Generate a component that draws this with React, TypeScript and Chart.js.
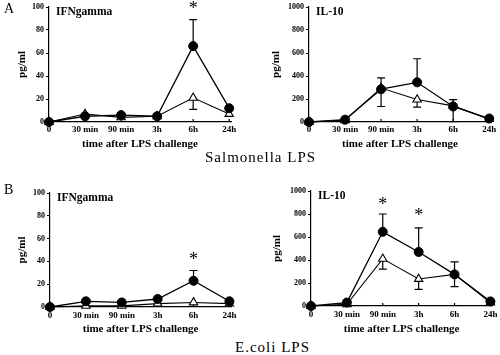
import React, { useEffect, useRef } from 'react';
import { Chart, registerables } from 'chart.js';

Chart.register(...registerables);

// ---------- data ----------
const timeLabels = ['0', '30 min', '90 min', '3h', '6h', '24h'];
const ifnTicks = [0, 20, 40, 60, 80, 100];
const il10Ticks = [0, 200, 400, 600, 800, 1000];

// Salmonella LPS – IFNgamma
const salIfnCircle = [0, 5, 6, 5, 66, 12];
const salIfnCircleUp = [null, null, null, null, 89, null];
const salIfnTriangle = [0, 7, 4, 5, 21, 7];
const salIfnTriangleDown = [null, null, null, null, 11, null];
const salIfnStars = [null, null, null, null, 101, null];

// Salmonella LPS – IL-10
const salIl10Circle = [0, 20, 285, 345, 135, 30];
const salIl10CircleUp = [null, null, 383, 550, 194, null];
const salIl10Triangle = [0, 15, 295, 195, 140, 25];
const salIl10TriangleDown = [null, null, 135, 130, 3, null];
const salIl10Stars = [null, null, null, null, null, null];

// E.coli LPS – IFNgamma
const ecoIfnCircle = [0, 5, 4, 7, 23, 5];
const ecoIfnCircleUp = [null, null, null, null, 32, null];
const ecoIfnTriangle = [0, 1, 1, 3, 4, 3];
const ecoIfnTriangleDown = [null, null, null, null, null, null];
const ecoIfnStars = [null, null, null, null, 44, null];

// E.coli LPS – IL-10
const ecoIl10Circle = [0, 30, 645, 470, 275, 40];
const ecoIl10CircleUp = [null, null, 800, 680, 383, null];
const ecoIl10Triangle = [0, 15, 410, 235, 275, 30];
const ecoIl10TriangleDown = [null, null, 320, 145, 168, null];
const ecoIl10Stars = [null, null, 905, 810, null, null];

const SERIF = '"Liberation Serif", "Times New Roman", serif';

type Panel = {
  name: string;
  yTicks: number[];
  circle: number[];
  circleUp: (number | null)[];
  triangle: number[];
  triangleDown: (number | null)[];
  stars: (number | null)[];
  left: number;
  top: number;
  height: number;
  yWidth: number;
  padTop: number;
  xHeight: number;
  xTickPad: number;
  yTitlePad: number;
};

const panels: Panel[] = [
  {
    name: 'IFNgamma', yTicks: ifnTicks,
    circle: salIfnCircle, circleUp: salIfnCircleUp,
    triangle: salIfnTriangle, triangleDown: salIfnTriangleDown, stars: salIfnStars,
    left: 0, top: 0, height: 151, yWidth: 49, padTop: 7, xHeight: 29, xTickPad: 2, yTitlePad: 16,
  },
  {
    name: 'IL-10', yTicks: il10Ticks,
    circle: salIl10Circle, circleUp: salIl10CircleUp,
    triangle: salIl10Triangle, triangleDown: salIl10TriangleDown, stars: salIl10Stars,
    left: 250, top: 0, height: 151, yWidth: 59, padTop: 7, xHeight: 29, xTickPad: 2, yTitlePad: 20,
  },
  {
    name: 'IFNgamma', yTicks: ifnTicks,
    circle: ecoIfnCircle, circleUp: ecoIfnCircleUp,
    triangle: ecoIfnTriangle, triangleDown: ecoIfnTriangleDown, stars: ecoIfnStars,
    left: 0, top: 180, height: 156, yWidth: 50, padTop: 13, xHeight: 29, xTickPad: 3.5, yTitlePad: 16,
  },
  {
    name: 'IL-10', yTicks: il10Ticks,
    circle: ecoIl10Circle, circleUp: ecoIl10CircleUp,
    triangle: ecoIl10Triangle, triangleDown: ecoIl10TriangleDown, stars: ecoIl10Stars,
    left: 250, top: 180, height: 156, yWidth: 61, padTop: 11, xHeight: 30, xTickPad: 3.5, yTitlePad: 21,
  },
];

const X_MAX = 5.05;
const X_UNIT = 36.1;
const PAD_RIGHT = 8;

const decorPlugin = {
  id: 'decor',
  beforeDatasetsDraw(chart: any) {
    const { ctx } = chart;
    const xs = chart.scales.x;
    const ys = chart.scales.y;
    ctx.save();
    ctx.strokeStyle = '#000';
    ctx.lineWidth = 1.2;
    chart.data.datasets.forEach((ds: any) => {
      ds.data.forEach((pt: any, i: number) => {
        [ds.errUp ? ds.errUp[i] : null, ds.errDown ? ds.errDown[i] : null].forEach((v: any) => {
          if (v == null) return;
          const x = xs.getPixelForValue(pt.x);
          const y0 = ys.getPixelForValue(pt.y);
          const y1 = ys.getPixelForValue(v);
          ctx.beginPath();
          ctx.moveTo(x, y0);
          ctx.lineTo(x, y1);
          ctx.moveTo(x - 4, y1);
          ctx.lineTo(x + 4, y1);
          ctx.stroke();
        });
      });
    });
    // inward x tick marks
    const b = chart.chartArea.bottom;
    timeLabels.forEach((_, i) => {
      const x = xs.getPixelForValue(i);
      ctx.beginPath();
      ctx.moveTo(x, b);
      ctx.lineTo(x, b - 3);
      ctx.stroke();
    });
    ctx.restore();
  },
  afterDatasetsDraw(chart: any) {
    const { ctx } = chart;
    const xs = chart.scales.x;
    const ys = chart.scales.y;
    const opts = chart.options.plugins.decor || {};
    ctx.save();
    ctx.fillStyle = '#000';
    // panel label
    ctx.font = `bold 11.5px ${SERIF}`;
    ctx.textAlign = 'left';
    ctx.textBaseline = 'middle';
    ctx.fillText(opts.label || '', chart.chartArea.left + 7, chart.chartArea.top + 5);
    // significance stars
    ctx.font = `18px ${SERIF}`;
    ctx.textAlign = 'center';
    ctx.textBaseline = 'alphabetic';
    (opts.stars || []).forEach((v: any, i: number) => {
      if (v == null) return;
      const x = xs.getPixelForValue(i);
      const y = ys.getPixelForValue(v);
      ctx.fillText('*', x, y + 8.5);
    });
    ctx.restore();
  },
};

function ChartPanel({ p }: { p: Panel }) {
  const ref = useRef<HTMLCanvasElement>(null);
  const width = Math.round(p.yWidth + X_UNIT * X_MAX + PAD_RIGHT);
  useEffect(() => {
    const canvas = ref.current;
    if (!canvas) return;
    const yMax = p.yTicks[p.yTicks.length - 1];
    const chart = new Chart(canvas, {
      type: 'line',
      data: {
        datasets: [
          {
            label: 'circle',
            data: p.circle.map((v, i) => ({ x: i, y: v })),
            errUp: p.circleUp,
            borderColor: '#000',
            borderWidth: 1.3,
            pointStyle: 'circle',
            pointRadius: 4.5,
            pointBackgroundColor: '#000',
            pointBorderColor: '#000',
            pointBorderWidth: 1,
            tension: 0,
          } as any,
          {
            label: 'triangle',
            data: p.triangle.map((v, i) => ({ x: i, y: v })),
            errDown: p.triangleDown,
            borderColor: '#000',
            borderWidth: 1.1,
            pointStyle: 'triangle',
            pointRadius: 4.8,
            pointBackgroundColor: '#fff',
            pointBorderColor: '#000',
            pointBorderWidth: 1.1,
            tension: 0,
          } as any,
        ],
      },
      options: {
        responsive: false,
        animation: false,
        events: [],
        clip: false as any,
        layout: { padding: { top: p.padTop, right: PAD_RIGHT, left: 0, bottom: 0 } },
        plugins: {
          legend: { display: false },
          tooltip: { enabled: false },
          decor: { label: p.name, stars: p.stars },
        } as any,
        scales: {
          x: {
            type: 'linear',
            min: 0,
            max: X_MAX,
            afterBuildTicks: (s: any) => {
              s.ticks = timeLabels.map((_, i) => ({ value: i }));
            },
            afterFit: (s: any) => {
              s.height = p.xHeight;
            },
            grid: { display: false, drawTicks: false },
            border: { display: true, color: '#000', width: 1.2 },
            ticks: {
              color: '#000',
              padding: p.xTickPad,
              maxRotation: 0,
              autoSkip: false,
              font: { family: SERIF, size: 9, weight: 'bold' },
              callback: (v: any) => timeLabels[v] ?? '',
            },
            title: {
              display: true,
              text: 'time after LPS challenge',
              color: '#000',
              padding: 0,
              font: { family: SERIF, size: 11, weight: 'bold' },
            },
          },
          y: {
            type: 'linear',
            min: 0,
            max: yMax,
            afterBuildTicks: (s: any) => {
              s.ticks = p.yTicks.map((v) => ({ value: v }));
            },
            afterFit: (s: any) => {
              s.width = p.yWidth;
            },
            grid: { drawOnChartArea: false, drawTicks: true, tickLength: 3, color: '#000', lineWidth: 1 },
            border: { display: true, color: '#000', width: 1.2 },
            ticks: {
              color: '#000',
              padding: 2,
              font: { family: SERIF, size: 8, weight: 'bold' },
              callback: (v: any) => String(v),
            },
            title: {
              display: true,
              text: 'pg/ml',
              color: '#000',
              padding: { top: p.yTitlePad, bottom: 0 },
              font: { family: SERIF, size: 11, weight: 'bold' },
            },
          },
        },
      } as any,
      plugins: [decorPlugin],
    });
    return () => chart.destroy();
  }, []);
  return (
    <canvas
      ref={ref}
      width={width}
      height={p.height}
      style={{ position: 'absolute', left: p.left, top: p.top, width, height: p.height }}
    />
  );
}

export default function App() {
  const textBase: React.CSSProperties = {
    position: 'absolute',
    fontFamily: SERIF,
    color: '#000',
    lineHeight: 1,
    whiteSpace: 'nowrap',
  };
  return (
    <div style={{ position: 'fixed', left: 0, top: 0, width: 500, height: 355, background: '#fff', overflow: 'hidden' }}>
      {panels.map((p, i) => (
        <ChartPanel key={i} p={p} />
      ))}
      <div style={{ ...textBase, left: 4, top: 2, fontSize: 14 }}>A</div>
      <div style={{ ...textBase, left: 4, top: 183, fontSize: 14 }}>B</div>
      <div style={{ ...textBase, left: 205, top: 150, fontSize: 15, letterSpacing: 1 }}>Salmonella LPS</div>
      <div style={{ ...textBase, left: 235, top: 340, fontSize: 15, letterSpacing: 1 }}>E.coli LPS</div>
    </div>
  );
}
